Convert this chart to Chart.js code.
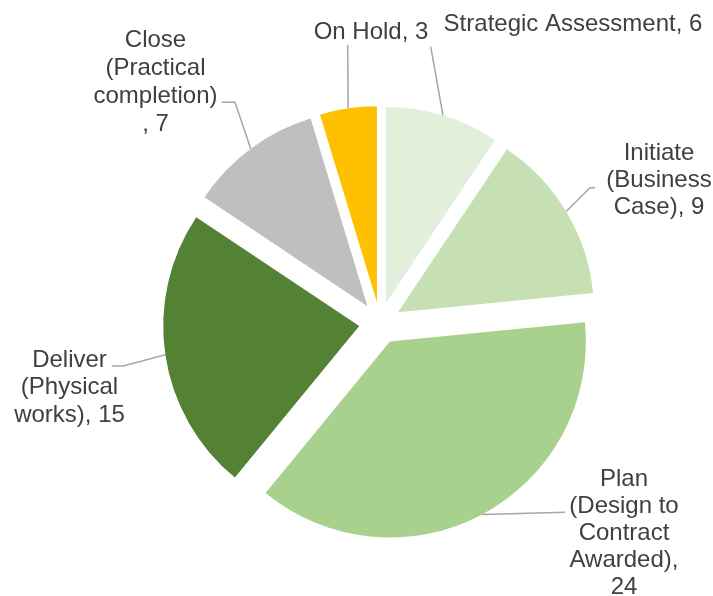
<!DOCTYPE html>
<html><head><meta charset="utf-8">
<script src="https://cdn.jsdelivr.net/npm/chart.js@4/dist/chart.umd.min.js"></script>
<style>html,body{margin:0;padding:0;background:#fff;} canvas{display:block;}</style>
</head><body>
<canvas id="c" width="713" height="596"></canvas>
<script>
const categories = ["Strategic Assessment", "Initiate (Business Case)", "Plan (Design to Contract Awarded)", "Deliver (Physical works)", "Close (Practical completion)", "On Hold"];
const values = [6, 9, 24, 15, 7, 3];
const colors = ["#e2efda", "#c6e0b4", "#a9d18e", "#548235", "#bfbfbf", "#ffc000"];

// label layout (wrapped lines, anchor positions, leader line bends)
const labelLayout = [
  {lines: ["Strategic Assessment, {v}"], x: 573, y: 31, lh: 27.5, path: [[430.7, 46.7]]},
  {lines: ["Initiate", "(Business", "Case), {v}"], x: 659, y: 160, lh: 26.8, path: [[590, 187.7], [595, 187.7]]},
  {lines: ["Plan", "(Design to", "Contract", "Awarded),", "{v}"], x: 624, y: 485.7, lh: 27.1, path: [[565, 512.3]]},
  {lines: ["Deliver", "(Physical", "works), {v}"], x: 69.5, y: 366.7, lh: 27.5, path: [[123.3, 366], [111.7, 366]]},
  {lines: ["Close", "(Practical", "completion)", ", {v}"], x: 155.5, y: 46.7, lh: 28.1, path: [[235, 102.3], [221.7, 102.3]]},
  {lines: ["On Hold, {v}"], x: 371, y: 39, lh: 27.5, path: [[347.7, 45]]}
];

// Excel-style explosion: translate slices without enlarging their radius
const uniformExplode = {
  id: 'uniformExplode',
  beforeDatasetsDraw(chart) {
    chart.getDatasetMeta(0).data.forEach(a => { a.circumference = Math.PI / 2; });
  }
};

const pieLabels = {
  id: 'pieLabels',
  afterDatasetsDraw(chart) {
    const ctx = chart.ctx;
    const meta = chart.getDatasetMeta(0);
    ctx.save();
    meta.data.forEach((arc, i) => {
      const L = labelLayout[i];
      const mid = (arc.startAngle + arc.endAngle) / 2;
      const off = (arc.options.offset || 0) / 4;
      const r = arc.outerRadius + off;
      const sx = arc.x + Math.cos(mid) * r, sy = arc.y + Math.sin(mid) * r;
      ctx.beginPath();
      ctx.moveTo(sx, sy);
      L.path.forEach(p => ctx.lineTo(p[0], p[1]));
      ctx.strokeStyle = '#a6a6a6';
      ctx.lineWidth = 1.5;
      ctx.stroke();
      ctx.fillStyle = '#404040';
      ctx.font = '24px "Liberation Sans", Arial, sans-serif';
      ctx.textAlign = 'center';
      ctx.textBaseline = 'alphabetic';
      L.lines.forEach((t, k) => ctx.fillText(t.replace('{v}', values[i]), L.x, L.y + k * L.lh));
    });
    ctx.restore();
  }
};

new Chart(document.getElementById('c'), {
  type: 'pie',
  data: {
    labels: categories,
    datasets: [{data: values, backgroundColor: colors, borderWidth: 0, offset: 84, radius: 196}]
  },
  options: {
    responsive: false,
    animation: false,
    events: [],
    layout: {padding: {left: 47, right: 0, top: 50, bottom: 0}},
    plugins: {legend: {display: false}, tooltip: {enabled: false}}
  },
  plugins: [uniformExplode, pieLabels]
});
</script>
</body></html>
